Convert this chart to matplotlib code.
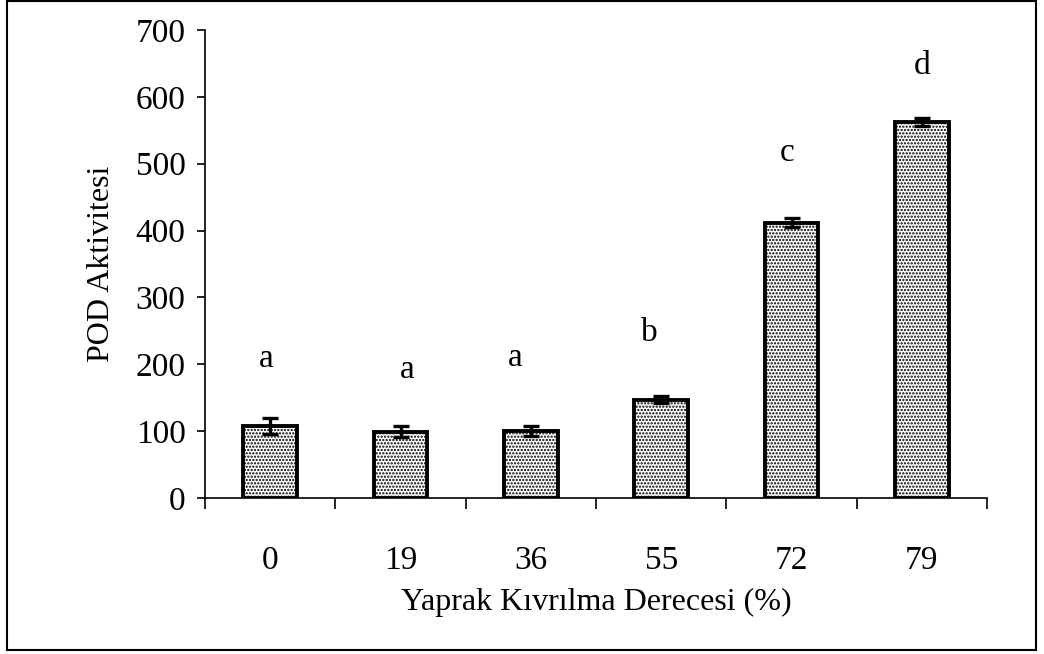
import matplotlib
matplotlib.use("Agg")
import matplotlib.pyplot as plt
from matplotlib.patches import Rectangle

categories = ["0", "19", "36", "55", "72", "79"]
values = [108, 99, 100, 147, 412, 562]
errors = [12, 8, 7, 5, 7, 6]
letters = ["a", "a", "a", "b", "c", "d"]
letter_y = [208, 192, 210, 247, 517, 646]
letter_dx = [-0.03, 0.05, -0.12, -0.09, -0.03, 0.0]

plt.rcParams['font.family'] = ['Liberation Serif', 'DejaVu Serif']
plt.rcParams['hatch.linewidth'] = 1.1
plt.rcParams['hatch.color'] = 'black'

fig = plt.figure(figsize=(10.44, 6.54), dpi=100)
ax = fig.add_axes([0.1964, 0.2385, 0.749, 0.7156])

x = list(range(len(categories)))
ax.bar(x, values, width=0.41, facecolor='white', edgecolor='black',
       linewidth=2.8, hatch='.....', zorder=2)
ax.errorbar(x, values, yerr=errors, fmt='none', ecolor='black',
            elinewidth=2.4, capsize=6, capthick=2.4, zorder=3)

for xi, dx, ly, lt in zip(x, letter_dx, letter_y, letters):
    ax.text(xi + dx, ly, lt, ha='center', va='center', fontsize=24)

ax.set_xlim(-0.5, 5.5)
ax.set_ylim(0, 700)
ax.set_yticks(range(0, 701, 100))
ax.set_xticks(x)
ax.set_xticklabels(categories)
ax.set_xticks([i - 0.5 for i in range(len(categories) + 1)], minor=True)
ax.tick_params(axis='x', which='major', length=0, pad=34, labelsize=24)
ax.tick_params(axis='x', which='minor', length=8, width=1.2, direction='out')
ax.tick_params(axis='y', which='major', length=6, width=1.2, direction='out',
               pad=8, labelsize=24)

for s in ['top', 'right']:
    ax.spines[s].set_visible(False)
for s in ['left', 'bottom']:
    ax.spines[s].set_linewidth(1.2)

ax.set_xlabel("Yaprak Kıvrılma Derecesi (%)", fontsize=23, labelpad=9)
ax.set_ylabel("POD Aktivitesi", fontsize=23, labelpad=14)

fig.patches.append(Rectangle((0.0067, 0.006), 0.9853, 0.992, transform=fig.transFigure,
                             fill=False, edgecolor='black', linewidth=1.5))

fig.savefig("out.png", dpi=100)
